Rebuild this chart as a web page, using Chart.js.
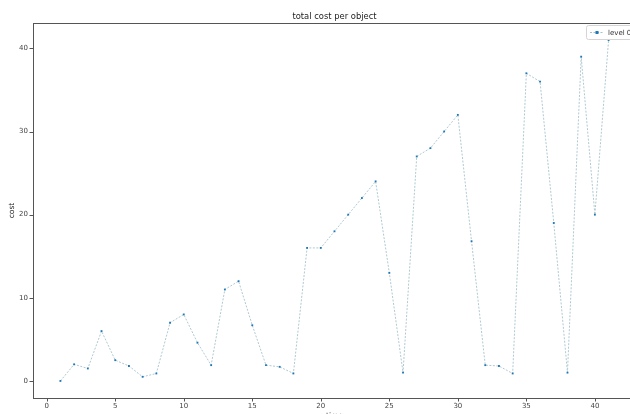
<!DOCTYPE html>
<html>
<head>
<meta charset="utf-8">
<script src="https://cdn.jsdelivr.net/npm/chart.js@4"></script>
<style>
    html, body { margin: 0; padding: 0; background: #fff; overflow: hidden; }
    #wrap { position: relative; width: 680px; height: 414px; }
</style>
</head>
<body>
<div id="wrap"><canvas id="costChart" width="680" height="414"></canvas></div>
<script>
// object index and total cost
const objects = [1, 2, 3, 4, 5, 6, 7, 8, 9, 10, 11, 12, 13, 14, 15, 16, 17, 18, 19, 20,
    21, 22, 23, 24, 25, 26, 27, 28, 29, 30, 31, 32, 33, 34, 35, 36, 37, 38, 39, 40, 41];
const costs = [0, 2, 1.5, 6, 2.5, 1.8, 0.5, 0.9, 7, 8, 4.6, 1.9, 11, 12, 6.7, 1.9, 1.7, 0.9, 16, 16,
    18, 20, 22, 24, 13, 1, 27, 28, 30, 32, 16.8, 1.9, 1.8, 0.9, 37, 36, 19, 1, 39, 20, 41];
const xTicks = [0, 5, 10, 15, 20, 25, 30, 35, 40];
const yTicks = [0, 10, 20, 30, 40];

const FONT = 'DejaVu Sans';
const AXIS = '#555';

// title, axis labels, frame, tick marks and legend in matplotlib style
const decorations = {
    id: 'decorations',
    afterDraw(chart) {
        const c = chart.ctx;
        const a = chart.chartArea;
        const xs = chart.scales.x, ys = chart.scales.y;
        c.save();
        c.strokeStyle = AXIS;
        c.lineWidth = 1;
        c.strokeRect(a.left + 0.5, a.top + 0.5, a.right - a.left, a.bottom - a.top);

        // tick marks
        c.beginPath();
        xTicks.forEach(v => {
            const px = Math.round(xs.getPixelForValue(v)) + 0.5;
            c.moveTo(px, a.bottom);
            c.lineTo(px, a.bottom + 3.5);
        });
        yTicks.forEach(v => {
            const py = Math.round(ys.getPixelForValue(v)) + 0.5;
            c.moveTo(a.left, py);
            c.lineTo(a.left - 3.5, py);
        });
        c.stroke();

        c.fillStyle = '#222';
        c.font = '8.4px ' + FONT;
        c.textAlign = 'center';
        c.textBaseline = 'alphabetic';
        c.fillText('total cost per object', (a.left + a.right) / 2, 19);
        c.textBaseline = 'top';
        c.font = '7.5px ' + FONT;
        c.fillText('time', (a.left + a.right) / 2, 412.5);

        c.save();
        c.translate(12, (a.top + a.bottom) / 2);
        c.rotate(-Math.PI / 2);
        c.textBaseline = 'middle';
        c.fillText('cost', 0, 0);
        c.restore();

        // legend box
        const lx = 586, ly = 25, lw = 62, lh = 14;
        c.fillStyle = 'rgba(255,255,255,0.85)';
        c.strokeStyle = '#d5d5d5';
        c.beginPath();
        c.roundRect(lx + 0.5, ly + 0.5, lw, lh, 2);
        c.fill();
        c.stroke();
        c.strokeStyle = '#9ec3d0';
        c.setLineDash([2, 1.5]);
        c.beginPath();
        c.moveTo(lx + 4, ly + 7.5);
        c.lineTo(lx + 18, ly + 7.5);
        c.stroke();
        c.setLineDash([]);
        c.fillStyle = '#1f77b4';
        c.fillRect(lx + 9.5, ly + 6, 3, 3);
        c.fillStyle = '#333';
        c.font = '7px ' + FONT;
        c.textAlign = 'left';
        c.textBaseline = 'middle';
        c.fillText('level 0', lx + 22, ly + 8);
        c.restore();
    }
};

new Chart(document.getElementById('costChart'), {
    type: 'line',
    data: {
        datasets: [{
            label: 'level 0',
            data: objects.map((x, i) => ({ x: x, y: costs[i] })),
            borderColor: '#afc9d0',
            borderWidth: 1,
            borderDash: [2, 1.5],
            tension: 0,
            pointStyle: 'rect',
            pointRadius: 1.3,
            pointBackgroundColor: '#1f77b4',
            pointBorderColor: '#1f77b4',
            pointBorderWidth: 0
        }]
    },
    options: {
        responsive: false,
        animation: false,
        layout: { padding: { top: 23, right: 44, left: 0, bottom: 0 } },
        plugins: {
            legend: { display: false },
            tooltip: { enabled: false }
        },
        scales: {
            x: {
                type: 'linear',
                min: -1,
                max: 43,
                afterBuildTicks: scale => { scale.ticks = xTicks.map(v => ({ value: v })); },
                afterFit: scale => { scale.height = 16; },
                grid: { display: false, drawTicks: false, tickLength: 0 },
                border: { display: false },
                ticks: { color: '#444', font: { family: FONT, size: 7 }, padding: 4, maxRotation: 0 }
            },
            y: {
                min: -2.05,
                max: 43.05,
                afterBuildTicks: scale => { scale.ticks = yTicks.map(v => ({ value: v })); },
                afterFit: scale => { scale.width = 33; },
                grid: { display: false, drawTicks: false, tickLength: 0 },
                border: { display: false },
                ticks: { color: '#444', font: { family: FONT, size: 7 }, padding: 5 }
            }
        }
    },
    plugins: [decorations]
});
</script>
</body>
</html>
